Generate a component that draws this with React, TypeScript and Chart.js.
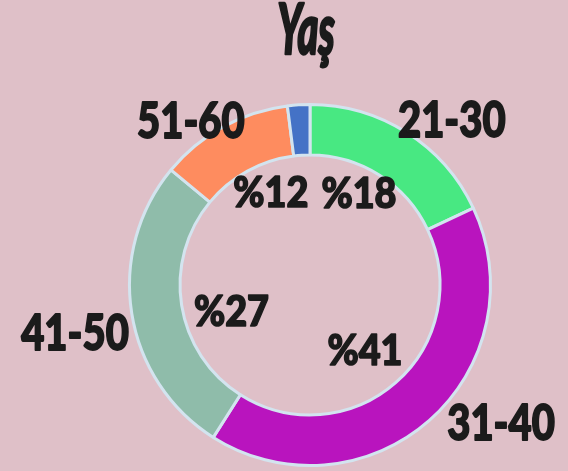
import React, { useEffect, useRef } from "react";
import { Chart, registerables } from "chart.js";

Chart.register(...registerables);

const title = "Yaş";
const categories = ["21-30", "31-40", "41-50", "51-60", "Diğer"];
const values = [18, 41, 27, 12, 2];
const percentLabels = ["%18", "%41", "%27", "%12", ""];
const outerLabels = ["21-30", "31-40", "41-50", "51-60", ""];
const colors = ["#48e882", "#b914be", "#8fbcaa", "#fe8c5f", "#4472c6"];

const BG = "#dfc0c8";
const TEXT = "#1b1b1b";

// label placement relative to each arc's middle angle (degrees) and outer radius (factor)
const innerPlacement = [
  { da: -4, rf: 0.57 },
  { da: 2, rf: 0.48 },
  { da: -10, rf: 0.46 },
  { da: 5.6, rf: 0.55 },
  { da: 0, rf: 0.5 },
];
const outerPlacement = [
  { da: 8.5, rf: 1.2 },
  { da: -12.5, rf: 1.31 },
  { da: -2.8, rf: 1.33 },
  { da: -7.3, rf: 1.12 },
  { da: 0, rf: 1.2 },
];

const drawScaled = (
  ctx: CanvasRenderingContext2D,
  text: string,
  x: number,
  y: number,
  font: string,
  sx: number,
  stroke: number
) => {
  ctx.save();
  ctx.font = font;
  ctx.fillStyle = TEXT;
  ctx.strokeStyle = TEXT;
  ctx.lineWidth = stroke;
  ctx.lineJoin = "round";
  ctx.textAlign = "center";
  ctx.textBaseline = "middle";
  ctx.translate(x, y);
  ctx.scale(sx, 1);
  ctx.fillText(text, 0, 0);
  if (stroke > 0) ctx.strokeText(text, 0, 0);
  ctx.restore();
};

const labelPlugin = {
  id: "customLabels",
  afterDraw(chart: any) {
    const ctx: CanvasRenderingContext2D = chart.ctx;
    const meta = chart.getDatasetMeta(0);
    const first = meta.data[0];
    if (!first) return;
    const cx = first.x;
    const cy = first.y;
    const R = first.outerRadius;

    // title
    ctx.save();
    ctx.font = "italic 900 70px Lato";
    ctx.fillStyle = TEXT;
    ctx.strokeStyle = TEXT;
    ctx.lineWidth = 2.5;
    ctx.lineJoin = "round";
    ctx.textAlign = "center";
    ctx.textBaseline = "alphabetic";
    ctx.translate(306, 54);
    ctx.scale(0.57, 1);
    ctx.fillText(title, 0, 0);
    ctx.strokeText(title, 0, 0);
    ctx.restore();

    meta.data.forEach((arc: any, i: number) => {
      const mid = (arc.startAngle + arc.endAngle) / 2;
      const ip = innerPlacement[i];
      if (percentLabels[i]) {
        const a = mid + (ip.da * Math.PI) / 180;
        drawScaled(ctx, percentLabels[i], cx + ip.rf * R * Math.cos(a), cy + ip.rf * R * Math.sin(a), "900 42px Lato", 0.9, 1.6);
      }
      const op = outerPlacement[i];
      if (outerLabels[i]) {
        const a = mid + (op.da * Math.PI) / 180;
        drawScaled(ctx, outerLabels[i], cx + op.rf * R * Math.cos(a), cy + op.rf * R * Math.sin(a), "900 50px Lato", 0.8, 1.8);
      }
    });
  },
};

export default function App() {
  const ref = useRef<HTMLCanvasElement | null>(null);

  useEffect(() => {
    if (!ref.current) return;
    const chart = new Chart(ref.current, {
      type: "doughnut",
      data: {
        labels: categories,
        datasets: [
          {
            data: values,
            backgroundColor: colors,
            borderColor: "#d3e4ef",
            borderWidth: 3,
          },
        ],
      },
      options: {
        responsive: false,
        animation: false,
        cutout: "72%",
        layout: { padding: { left: 128, right: 76, top: 103, bottom: 4 } },
        plugins: {
          legend: { display: false },
          tooltip: { enabled: false },
          title: { display: false },
        },
      },
      plugins: [labelPlugin],
    });
    return () => chart.destroy();
  }, []);

  return (
    <div style={{ position: "fixed", left: 0, top: 0, width: 568, height: 471, background: BG }}>
      <canvas ref={ref} width={568} height={471} style={{ display: "block" }} />
    </div>
  );
}
